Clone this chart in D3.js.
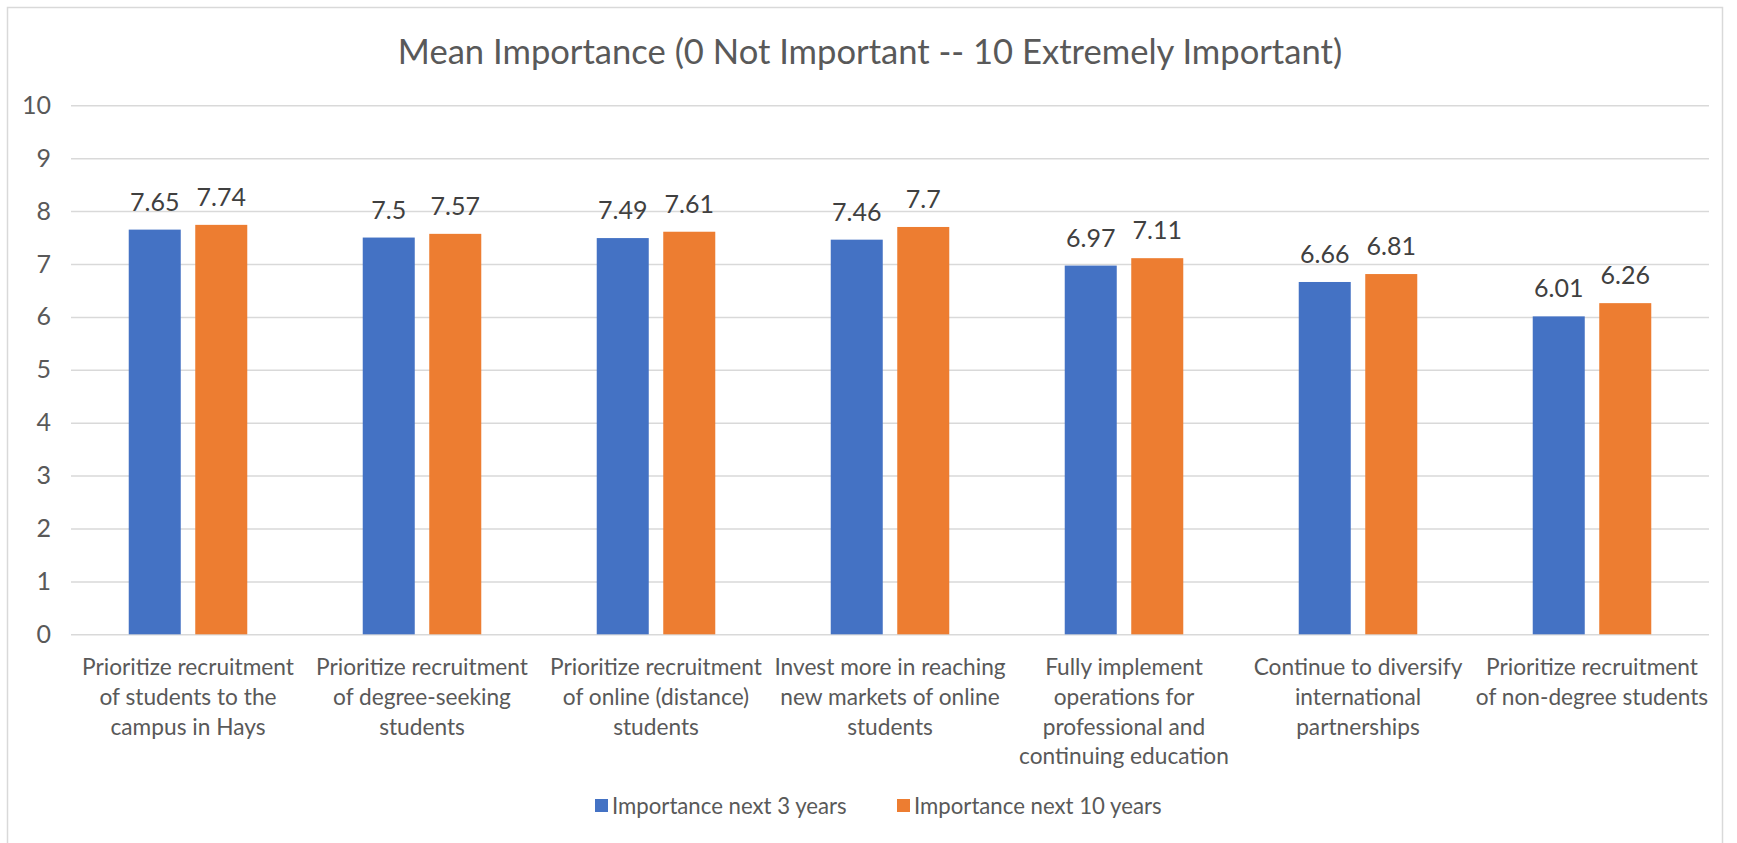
<!DOCTYPE html>
<html>
<head>
<meta charset="utf-8">
<script src="https://cdn.jsdelivr.net/npm/d3@7"></script>
<style>
    body { margin: 0; background: #fff; }
    svg { display: block; font-family: Lato, "Open Sans", sans-serif; }
</style>
</head>
<body>
<div id="chart"></div>
<script>
// chart data
var categories = [
    "Prioritize recruitment\nof students to the\ncampus in Hays",
    "Prioritize recruitment\nof degree-seeking\nstudents",
    "Prioritize recruitment\nof online (distance)\nstudents",
    "Invest more in reaching\nnew markets of online\nstudents",
    "Fully implement\noperations for\nprofessional and\ncontinuing education",
    "Continue to diversify\ninternational\npartnerships",
    "Prioritize recruitment\nof non-degree students"
];
var seriesNames = ["Importance next 3 years", "Importance next 10 years"];
var next3 = [7.65, 7.5, 7.49, 7.46, 6.97, 6.66, 6.01];
var next10 = [7.74, 7.57, 7.61, 7.7, 7.11, 6.81, 6.26];
var yTicks = [0, 1, 2, 3, 4, 5, 6, 7, 8, 9, 10];
var title = "Mean Importance (0 Not Important -- 10 Extremely Important)";

(function()
{
    "use strict";

    var W = 1737, H = 843;
    var colors = ["#4472C4", "#ED7D31"];
    var values = [next3, next10];

    var svg = d3.select("#chart").append("svg")
                .attr("width", W)
                .attr("height", H);

    // chart area frame (bottom edge falls off the page)
    svg.append("rect")
       .attr("x", 7.5).attr("y", 7.5)
       .attr("width", 1715).attr("height", 860)
       .attr("fill", "#fff")
       .attr("stroke", "#D9D9D9")
       .attr("stroke-width", 1.5);

    svg.append("text")
       .attr("x", 870).attr("y", 64)
       .attr("text-anchor", "middle")
       .attr("fill", "#595959")
       .style("font-size", "34.6px")
       .text(title);

    // #########################################################################
    var x0 = d3.scaleBand()
               .domain(d3.range(categories.length))
               .range([71, 1709]);

    var x1 = d3.scaleBand()
               .domain(d3.range(seriesNames.length))
               .range([0, x0.bandwidth()])
               .paddingInner(0.218)
               .paddingOuter(0.868);

    var y = d3.scaleLinear()
              .domain([0, 10])
              .range([634.3, 105.3]);
    // #########################################################################

    var yAxis = d3.axisLeft(y).tickValues(yTicks)
                  .tickSize(-(1709 - 71))
                  .tickPadding(20);

    var gy = svg.append("g")
                .attr("transform", "translate(71,0)")
                .call(yAxis);
    gy.select(".domain").remove();
    gy.selectAll(".tick line")
      .attr("stroke", "#D9D9D9")
      .attr("stroke-width", 1.5);
    gy.selectAll(".tick text")
      .attr("fill", "#595959")
      .style("font-family", "Lato, sans-serif")
      .style("font-size", "25px");

    // bars
    var groups = svg.append("g").selectAll("g")
                    .data(categories)
                    .enter().append("g")
                    .attr("transform", function(d, i) { return `translate(${x0(i)},0)`; });

    groups.selectAll("rect")
          .data(function(d, i) { return values.map(function(v, s) { return {s: s, v: v[i]}; }); })
          .enter().append("rect")
          .attr("x", function(d) { return x1(d.s); })
          .attr("y", function(d) { return y(d.v); })
          .attr("width", x1.bandwidth())
          .attr("height", function(d) { return y(0) - y(d.v); })
          .attr("fill", function(d) { return colors[d.s]; });

    groups.selectAll("text.val")
          .data(function(d, i) { return values.map(function(v, s) { return {s: s, v: v[i]}; }); })
          .enter().append("text")
          .attr("class", "val")
          .attr("x", function(d) { return x1(d.s) + x1.bandwidth() / 2; })
          .attr("y", function(d) { return y(d.v) - 19; })
          .attr("text-anchor", "middle")
          .attr("fill", "#404040")
          .style("font-size", "25px")
          .text(function(d) { return d.v; });

    // category labels, line-broken as in the reference
    groups.append("text")
          .attr("text-anchor", "middle")
          .attr("fill", "#595959")
          .style("font-size", "22.7px")
          .each(function(d) {
              var t = d3.select(this);
              d.split("\n").forEach(function(line, k) {
                  t.append("tspan")
                   .attr("x", x0.bandwidth() / 2)
                   .attr("y", 675 + k * 29.8)
                   .text(line);
              });
          });

    // legend
    var legend = svg.append("g").attr("transform", "translate(0,806)");
    var lx = [595, 897];
    seriesNames.forEach(function(name, s) {
        legend.append("rect")
              .attr("x", lx[s]).attr("y", -7)
              .attr("width", 13).attr("height", 13)
              .attr("fill", colors[s]);
        legend.append("text")
              .attr("x", lx[s] + 17).attr("y", 8)
              .attr("fill", "#595959")
              .style("font-size", "22.2px")
              .text(name);
    });
}
)();
</script>
</body>
</html>
